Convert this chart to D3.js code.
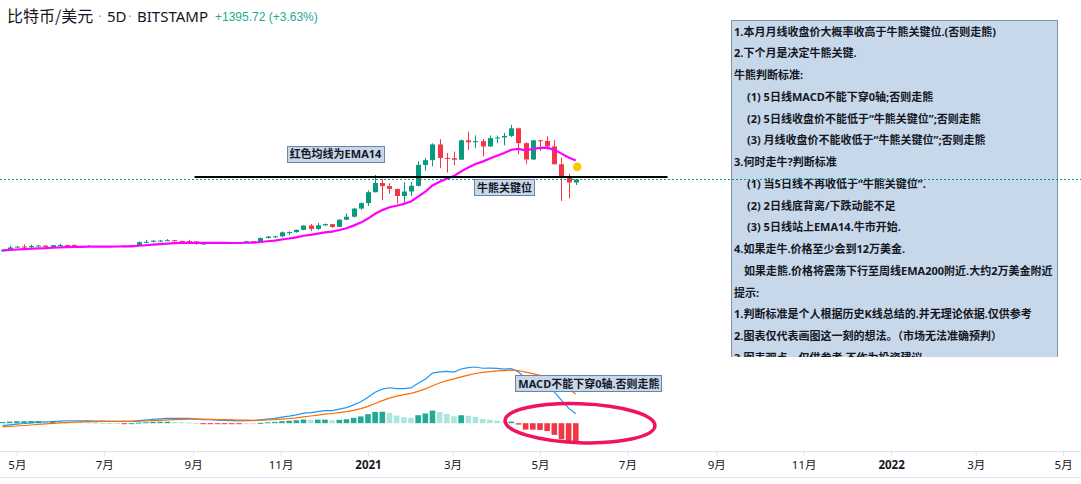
<!DOCTYPE html>
<html>
<head>
<meta charset="utf-8">
<script src="https://cdn.jsdelivr.net/npm/d3@7"></script>
<style>
  body { margin: 0; background: #fff; }
  svg { display: block; font-family: "Noto Sans", "Noto Sans CJK SC", sans-serif; }
</style>
</head>
<body>
<svg id="chart" width="1081" height="484"></svg>
<script>
// BTC/USD Bitstamp, 5 day bars, first bar opens 2020-04-21
var firstBar = Date.UTC(2020, 3, 21);
var opens = [6860, 7550, 8620, 9030, 8720, 9310, 9510, 8900, 9700, 9790,
  9770, 9340, 9300, 9290, 9190, 9130, 9240, 9250, 9210, 9540,
  11100, 11230, 11760, 11780, 11960, 11650, 11530, 11410, 10370, 10440,
  10940, 10530, 10770, 10570, 10670, 11540, 11360, 12970, 13650, 13760,
  15580, 15700, 16720, 18700, 17150, 18790, 19360, 18050, 21380, 22740,
  26490, 28980, 34000, 38200, 36800, 35500, 32250, 34300, 36900, 46500,
  48700, 55900, 49700, 49600, 48900, 57800, 56900, 57400, 55000, 58800,
  59100, 59800, 63300, 56500, 49000, 57800, 57500, 55000, 46800, 40600, 38449];
var highs = [7770, 9460, 9200, 10070, 9950, 9900, 9560, 9720, 10430, 9870,
  9990, 9560, 9770, 9320, 9280, 9470, 9340, 9280, 9680, 11420,
  12100, 11900, 12060, 12480, 12010, 11720, 12090, 11450, 10570, 11100,
  11180, 10780, 10960, 10800, 11720, 11560, 13200, 13780, 13900, 15960,
  15980, 16850, 18800, 19480, 19900, 19600, 19420, 21560, 24300, 26800,
  29300, 34800, 41900, 39900, 38000, 35600, 38500, 38700, 48200, 49700,
  56400, 58300, 52000, 52600, 58100, 61800, 60100, 58400, 60000, 60000,
  61200, 64900, 63600, 56800, 58000, 58000, 59600, 58000, 49800, 42500, 40100];
var lows = [6760, 7450, 8500, 8100, 8200, 9230, 8700, 8700, 9270, 9530,
  9100, 8910, 9200, 8830, 8900, 8900, 9120, 9050, 9130, 9520,
  10600, 11010, 11130, 11680, 11390, 11130, 11200, 9830, 9880, 10210,
  10350, 10150, 10400, 10530, 10530, 11230, 11340, 12730, 12950, 13240,
  14350, 15440, 16560, 16200, 16550, 18600, 17600, 18040, 21200, 22350,
  25900, 27700, 33900, 30300, 33400, 28800, 29200, 32300, 36600, 43800,
  45900, 45000, 43000, 46300, 48900, 53300, 54300, 50400, 54700, 56500,
  55500, 59300, 51300, 47000, 48800, 52900, 53500, 46700, 30000, 31100, 37300];
var closes = [7550, 8620, 9030, 8720, 9310, 9510, 8900, 9700, 9790, 9770,
  9340, 9300, 9290, 9190, 9130, 9240, 9250, 9210, 9540, 11100,
  11230, 11760, 11780, 11960, 11650, 11530, 11410, 10370, 10440, 10940,
  10530, 10770, 10570, 10670, 11540, 11360, 12970, 13650, 13760, 15580,
  15700, 16720, 18700, 17150, 18790, 19360, 18050, 21380, 22740, 26490,
  28980, 34000, 38200, 36800, 35500, 32250, 34300, 36900, 46500, 48700,
  55900, 49700, 49600, 48900, 57800, 56900, 57400, 55000, 58800, 59100,
  59800, 63300, 56500, 49000, 57800, 57500, 55000, 46800, 40600, 38449, 39845];

// indicator state carried in from bars before the first visible one
var ema14Seed = 7300;
var ema12Seed = 7200, ema26Seed = 7700, signalSeed = -700;

var keyLevel = 41000;
var keyFrom = Date.UTC(2020, 8, 2), keyTo = Date.UTC(2021, 6, 29);
var dotDate = Date.UTC(2021, 4, 27), dotPrice = 45600;

var noteLines = [
  "1.本月月线收盘价大概率收高于牛熊关键位.(否则走熊)",
  "2.下个月是决定牛熊关键.",
  "牛熊判断标准:",
  "(1) 5日线MACD不能下穿0轴;否则走熊",
  "(2) 5日线收盘价不能低于“牛熊关键位”;否则走熊",
  "(3) 月线收盘价不能收低于“牛熊关键位”;否则走熊",
  "3.何时走牛?判断标准",
  "(1) 当5日线不再收低于“牛熊关键位”.",
  "(2) 2日线底背离/下跌动能不足",
  "(3) 5日线站上EMA14.牛市开始.",
  "4.如果走牛.价格至少会到12万美金.",
  "如果走熊.价格将震荡下行至周线EMA200附近.大约2万美金附近",
  "提示:",
  "1.判断标准是个人根据历史K线总结的.并无理论依据.仅供参考",
  "2.图表仅代表画图这一刻的想法。（市场无法准确预判）",
  "3.图表观点，仅供参考.不作为投资建议"
];
var noteIndent = [0, 0, 0, 13, 13, 13, 0, 13, 13, 13, 0, 10, 0, 0, 0, 0];

var up = "#089981", down = "#f23645";
var boxFont = "'Noto Sans', 'Noto Sans CJK SC', sans-serif";
var svg = d3.select("#chart");

var bars = closes.map(function (c, i) {
  return { date: new Date(firstBar + i * 5 * 864e5), o: opens[i], h: highs[i], l: lows[i], c: c };
});

var x = d3.scaleUtc()
  .domain([new Date(Date.UTC(2020, 3, 21)), new Date(Date.UTC(2022, 4, 13))])
  .range([2.5, 1080.3]);
var y = d3.scaleLinear().domain([0, 70000]).range([266.3, 113.7]);

// EMA14
var e = ema14Seed;
bars.forEach(function (b) { e = e + (b.c - e) * 2 / 15; b.ema = e; });

// MACD 12 26 9
var e12 = ema12Seed, e26 = ema26Seed, sig = signalSeed;
bars.forEach(function (b) {
  e12 = e12 + (b.c - e12) * 2 / 13;
  e26 = e26 + (b.c - e26) * 2 / 27;
  b.macd = e12 - e26;
  sig = sig + (b.macd - sig) * 2 / 10;
  b.signal = sig;
  b.hist = b.macd - sig;
});

var main = svg.append("g");
svg.append("clipPath").attr("id", "mainclip")
  .append("rect").attr("x", 0).attr("y", 0).attr("width", 1081).attr("height", 357);
main.attr("clip-path", "url(#mainclip)");

// candles
var cg = main.append("g");
bars.forEach(function (b) {
  var cx = Math.round(x(b.date));
  var col = b.c >= b.o ? up : down;
  cg.append("line")
    .attr("x1", cx + 0.5).attr("x2", cx + 0.5)
    .attr("y1", y(b.h)).attr("y2", y(b.l))
    .attr("stroke", col).attr("stroke-width", 1);
  var top = y(Math.max(b.o, b.c)), bot = y(Math.min(b.o, b.c));
  cg.append("rect")
    .attr("x", cx - 2).attr("width", 5)
    .attr("y", top).attr("height", Math.max(1, bot - top))
    .attr("fill", col);
});

// EMA14
main.append("path")
  .datum(bars)
  .attr("fill", "none")
  .attr("stroke", "#ff00ff")
  .attr("stroke-width", 2.2)
  .attr("d", d3.line().x(function (d) { return x(d.date); }).y(function (d) { return y(d.ema); }));

// key level
main.append("line")
  .attr("x1", x(keyFrom)).attr("x2", x(keyTo))
  .attr("y1", y(keyLevel)).attr("y2", y(keyLevel))
  .attr("stroke", "#000").attr("stroke-width", 2);

main.append("circle")
  .attr("cx", x(dotDate)).attr("cy", y(dotPrice)).attr("r", 4.3)
  .attr("fill", "#f8c800");

function callout(g, cx, cy, txt, size) {
  var t = g.append("text")
    .attr("x", cx).attr("y", cy)
    .attr("text-anchor", "middle").attr("dominant-baseline", "central")
    .attr("font-family", boxFont)
    .attr("font-weight", 700)
    .attr("font-size", size).attr("fill", "#131722")
    .text(txt);
  var bb = t.node().getBBox();
  g.insert("rect", function () { return t.node(); })
    .attr("x", Math.round(bb.x - 3) + 0.5).attr("y", Math.round(cy - 8) + 0.5)
    .attr("width", Math.round(bb.width + 5)).attr("height", 16)
    .attr("fill", "#c8d8eb").attr("stroke", "#6b86a4");
}

// notes box
var note = main.append("g");
note.append("rect")
  .attr("x", 731.5).attr("y", 20.5).attr("width", 326).attr("height", 360)
  .attr("fill", "#c8d8eb").attr("stroke", "#7f94ab");
note.selectAll("text").data(noteLines).enter().append("text")
  .attr("x", function (d, i) { return 734 + noteIndent[i]; })
  .attr("y", function (d, i) { return 31 + i * 21.75; })
  .attr("dominant-baseline", "central")
  .attr("font-family", boxFont)
  .attr("font-weight", 700)
  .attr("font-size", 11)
  .attr("fill", "#131722")
  .text(function (d) { return d; });

// last price line
var lastY = Math.round(y(closes[closes.length - 1])) + 0.5;
main.append("line")
  .attr("x1", 0).attr("x2", 1081)
  .attr("y1", lastY).attr("y2", lastY)
  .attr("stroke", up).attr("stroke-width", 1).attr("stroke-dasharray", "2,2");

callout(main, 335.5, 153.5, "红色均线为EMA14", 11);
callout(main, 504.5, 187, "牛熊关键位", 11);

// MACD pane
var all = [];
bars.forEach(function (b) { all.push(b.macd, b.signal, b.hist); });
var ym = d3.scaleLinear().domain(d3.extent(all)).range([443, 367]);

var mg = svg.append("g");
bars.forEach(function (b, i) {
  var prev = i > 0 ? bars[i - 1].hist : b.hist;
  var col;
  if (b.hist >= 0) col = b.hist >= prev ? "#22ab94" : "#ace5dc";
  else col = b.hist < prev ? "#f23645" : "#fccbcd";
  var cx = x(b.date);
  var y0 = ym(0), y1 = ym(b.hist);
  mg.append("rect")
    .attr("x", cx - 2.8).attr("width", 5.6)
    .attr("y", Math.min(y0, y1)).attr("height", Math.max(1, Math.abs(y1 - y0)))
    .attr("fill", col);
});
mg.append("path").datum(bars)
  .attr("fill", "none").attr("stroke", "#2196f3").attr("stroke-width", 1.2)
  .attr("d", d3.line().x(function (d) { return x(d.date); }).y(function (d) { return ym(d.macd); }));
mg.append("path").datum(bars)
  .attr("fill", "none").attr("stroke", "#ff6d00").attr("stroke-width", 1.2)
  .attr("d", d3.line().x(function (d) { return x(d.date); }).y(function (d) { return ym(d.signal); }));

callout(mg, 589, 383, "MACD不能下穿0轴.否则走熊", 11);

mg.append("ellipse")
  .attr("cx", 580).attr("cy", ym(0))
  .attr("rx", 75).attr("ry", 19.5)
  .attr("transform", "rotate(2," + 580 + "," + ym(0) + ")")
  .attr("fill", "none").attr("stroke", "#f0145a").attr("stroke-width", 3.5);

// time axis
svg.append("line").attr("x1", 0).attr("x2", 1081).attr("y1", 451.5).attr("y2", 451.5).attr("stroke", "#e0e3eb");
svg.append("line").attr("x1", 0).attr("x2", 1081).attr("y1", 477.5).attr("y2", 477.5).attr("stroke", "#e0e3eb");
var ticks = d3.utcMonth.every(2).range(new Date(Date.UTC(2020, 4, 1)), new Date(Date.UTC(2022, 5, 1)));
var ax = svg.append("g").attr("transform", "translate(0,452)")
  .call(d3.axisBottom(x).tickValues(ticks).tickSize(4).tickPadding(5)
    .tickFormat(function (d) { return d.getUTCMonth() === 0 ? d.getUTCFullYear() : (d.getUTCMonth() + 1) + "月"; }));
ax.select(".domain").remove();
ax.selectAll(".tick line").attr("stroke", "#e0e3eb");
ax.selectAll(".tick text")
  .attr("font-family", "'Noto Sans', 'Noto Sans CJK SC', sans-serif")
  .attr("font-size", 11.5).attr("fill", "#131722")
  .attr("font-weight", function (d) { return d.getUTCMonth() === 0 ? 700 : 400; });

// title
var title = svg.append("g").attr("fill", "#131722");
title.append("text").attr("x", 7).attr("y", 22).attr("font-size", 16)
  .attr("font-family", "'Noto Sans CJK SC', sans-serif").text("比特币/美元");
title.append("text").attr("x", 98).attr("y", 21).attr("font-size", 13).attr("fill", "#9598a1").text("·");
title.append("text").attr("x", 107).attr("y", 22).attr("font-size", 15).text("5D");
title.append("text").attr("x", 128).attr("y", 21).attr("font-size", 13).attr("fill", "#9598a1").text("·");
title.append("text").attr("x", 137).attr("y", 22).attr("font-size", 15).text("BITSTAMP");
title.append("text").attr("x", 215).attr("y", 21).attr("font-size", 12)
  .attr("font-family", "'Liberation Sans', sans-serif").attr("fill", "#22ab94")
  .text("+1395.72 (+3.63%)");
</script>
</body>
</html>
